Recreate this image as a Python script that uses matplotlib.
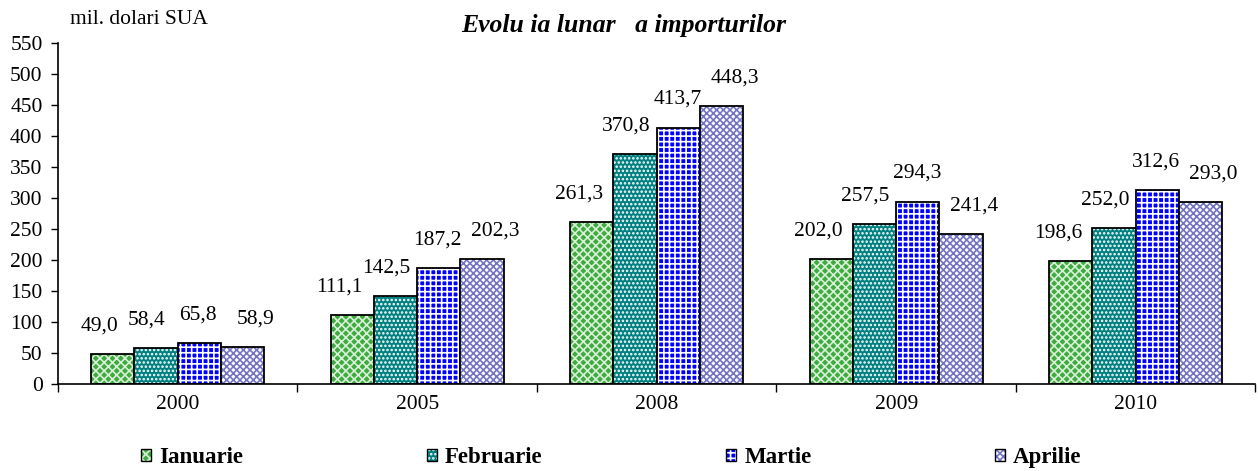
import numpy as np
import matplotlib
matplotlib.use("Agg")
import matplotlib.pyplot as plt
from matplotlib.patches import Patch
from matplotlib.legend_handler import HandlerTuple

plt.rcParams['font.family'] = ['Liberation Serif', 'DejaVu Serif']
plt.rcParams['hatch.linewidth'] = 1.2

years = ['2000', '2005', '2008', '2009', '2010']
months = ['Ianuarie', 'Februarie', 'Martie', 'Aprilie']
ianuarie = [49.0, 111.1, 261.3, 202.0, 198.6]
februarie = [58.4, 142.5, 370.8, 257.5, 252.0]
martie = [65.8, 187.2, 413.7, 294.3, 312.6]
aprilie = [58.9, 202.3, 448.3, 241.4, 293.0]
series = [ianuarie, februarie, martie, aprilie]

# face colour, hatch, hatch colour, label x-shift (px)
styles = [('#3faa3f', 'xxxx', '#d8f0d8', -13),
          ('#008080', '....', 'white', -9),
          ('#0000ff', '+++', 'white', -1),
          ('white', 'xxxxx', '#7474c4', 13)]

fig = plt.figure(figsize=(12.58, 4.71), dpi=100)
ax = fig.add_axes([0.046, 0.1847, 0.952, 0.724])

x = np.arange(len(years))
w = 0.1805
handles = []
for i, (vals, (fc, hatch, hc, dx)) in enumerate(zip(series, styles)):
    pos = x + (i - 1.5) * w
    ax.bar(pos, vals, w, color=fc, hatch=hatch, edgecolor=hc, linewidth=0)
    ax.bar(pos, vals, w, fill=False, edgecolor='black', linewidth=1.3)
    for px, v in zip(pos, vals):
        ax.annotate(f"{v:.1f}".replace('.', ','), (px, v), xytext=(dx, 28),
                    textcoords='offset pixels', ha='center', va='center',
                    fontsize=15.5)
    h1 = Patch(facecolor=fc, hatch=hatch, edgecolor=hc, linewidth=0)
    h2 = Patch(fill=False, edgecolor='black', linewidth=1.0)
    handles.append((h1, h2))

ax.set_xlim(-0.5, len(years) - 0.5)
ax.set_ylim(0, 550)
ax.set_yticks(np.arange(0, 551, 50))
ax.tick_params(axis='y', labelsize=15.5, length=5, width=1, pad=6)
ax.set_xticks(np.arange(-0.5, len(years), 1))
ax.set_xticklabels([])
ax.set_xticks(x, minor=True)
ax.set_xticklabels(years, minor=True)
ax.tick_params(axis='x', which='major', length=6, width=1)
ax.tick_params(axis='x', which='minor', length=0, labelsize=15.5, pad=8)
for s in ['top', 'right']:
    ax.spines[s].set_visible(False)
for s in ['left', 'bottom']:
    ax.spines[s].set_linewidth(1.2)

fig.text(0.056, 0.958, 'mil. dolari SUA', fontsize=15.5, ha='left', va='center')
fig.text(0.496, 0.945, 'Evolu ia lunar   a importurilor', fontsize=18.5,
         fontweight='bold', fontstyle='italic', ha='center', va='center')

fig.legend(handles, months, handler_map={tuple: HandlerTuple(ndivide=1, pad=0)},
           loc='center', bbox_to_anchor=(0.486, 0.028), ncol=4, frameon=False,
           prop={'weight': 'bold', 'size': 16.5}, handlelength=0.45, handleheight=0.45,
           handletextpad=0.35, columnspacing=8.0)

fig.savefig('out.png', dpi=100)
